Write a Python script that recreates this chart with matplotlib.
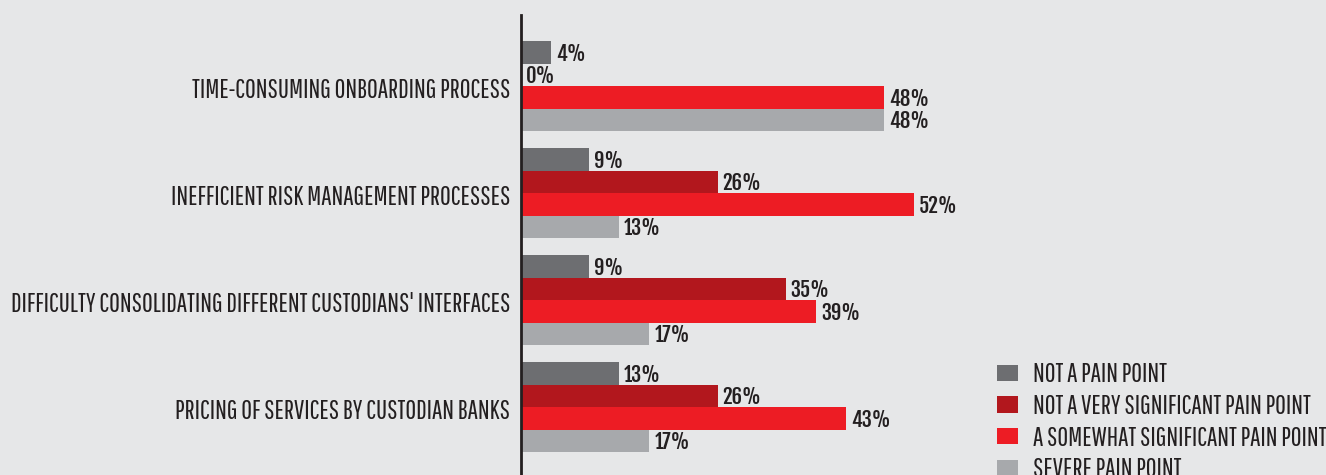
import matplotlib
matplotlib.use("Agg")
import matplotlib.pyplot as plt
from matplotlib.patches import Patch

# survey results, percent of respondents
categories = [
    "TIME-CONSUMING ONBOARDING PROCESS",
    "INEFFICIENT RISK MANAGEMENT PROCESSES",
    "DIFFICULTY CONSOLIDATING DIFFERENT CUSTODIANS' INTERFACES",
    "PRICING OF SERVICES BY CUSTODIAN BANKS",
]
series_names = [
    "NOT A PAIN POINT",
    "NOT A VERY SIGNIFICANT PAIN POINT",
    "A SOMEWHAT SIGNIFICANT PAIN POINT",
    "SEVERE PAIN POINT",
]
not_a_pain = [4, 9, 9, 13]
not_very_significant = [0, 26, 35, 26]
somewhat_significant = [48, 52, 39, 43]
severe = [48, 13, 17, 17]

series = [not_a_pain, not_very_significant, somewhat_significant, severe]
colors = ["#6d6e71", "#b2171d", "#ed1c24", "#a7a9ac"]
bg = "#e6e7e8"
ink = "#231f20"

label_font = "Pathway Gothic One"
value_font = "Fjalla One"

W, H = 1326, 475
fig = plt.figure(figsize=(W / 100, H / 100), dpi=100, facecolor=bg)
ax = fig.add_axes([521 / W, 0, (W - 521) / W, 460 / H])
ax.set_facecolor(bg)

bar_h = 1.0
pitch = 4.756
for i, (vals, col) in enumerate(zip(series, colors)):
    ys = [g * pitch + i * bar_h + bar_h / 2 for g in range(len(categories))]
    ax.barh(ys, vals, height=bar_h, color=col, linewidth=0)
    for y, v in zip(ys, vals):
        ax.annotate(f"{v}%", (v, y), xytext=(5, -1.5), textcoords="offset pixels",
                    ha="left", va="center", fontsize=14.8, family=value_font,
                    color=ink)

ax.set_xlim(0, 106.5)
ax.set_ylim(19.29, -1.156)

# labels sit a touch below the middle of each group
ax.set_yticks([g * pitch + 2 * bar_h + 0.09 for g in range(len(categories))])
ax.set_yticklabels(categories, family=label_font, fontsize=18.8, color=ink)
ax.tick_params(axis="y", length=0, pad=8)
ax.set_xticks([])

for s in ["top", "right", "bottom"]:
    ax.spines[s].set_visible(False)
ax.spines["left"].set_color(ink)
ax.spines["left"].set_linewidth(2)

handles = [Patch(facecolor=c, edgecolor="none") for c in colors]
leg = fig.legend(handles, series_names, loc="upper left",
                 bbox_to_anchor=(997 / W, 1 - 362 / H),
                 frameon=False, borderpad=0, borderaxespad=0,
                 handlelength=0.81, handleheight=0.58, handletextpad=0.58,
                 labelspacing=0.26,
                 prop={"family": label_font, "size": 18.8})
for t in leg.get_texts():
    t.set_color(ink)

fig.savefig("out.png", facecolor=bg)
